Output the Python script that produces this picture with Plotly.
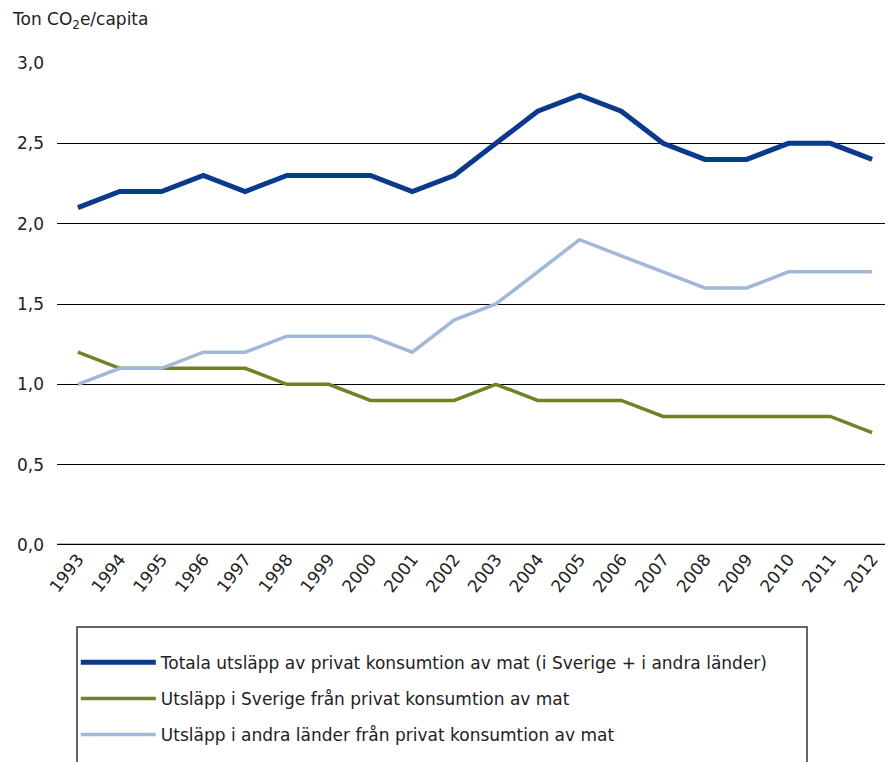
import plotly.graph_objects as go

years = [str(y) for y in range(1993, 2013)]
totala = [2.1, 2.2, 2.2, 2.3, 2.2, 2.3, 2.3, 2.3, 2.2, 2.3, 2.5, 2.7, 2.8, 2.7, 2.5, 2.4, 2.4, 2.5, 2.5, 2.4]
sverige = [1.2, 1.1, 1.1, 1.1, 1.1, 1.0, 1.0, 0.9, 0.9, 0.9, 1.0, 0.9, 0.9, 0.9, 0.8, 0.8, 0.8, 0.8, 0.8, 0.7]
andra = [1.0, 1.1, 1.1, 1.2, 1.2, 1.3, 1.3, 1.3, 1.2, 1.4, 1.5, 1.7, 1.9, 1.8, 1.7, 1.6, 1.6, 1.7, 1.7, 1.7]

names = [
    "Totala utsläpp av privat konsumtion av mat (i Sverige + i andra länder)",
    "Utsläpp i Sverige från privat konsumtion av mat",
    "Utsläpp i andra länder från privat konsumtion av mat",
]
colors = ["#0b3a8c", "#6b8525", "#a1b8d8"]
widths = [5, 3.5, 3.5]
yticks = [0, 0.5, 1.0, 1.5, 2.0, 2.5, 3.0]

FONT = "DejaVu Sans, sans-serif"
FS = 17

fig = go.Figure()
for i, vals in enumerate([totala, sverige, andra]):
    fig.add_trace(go.Scatter(
        x=years, y=vals, mode="lines", name=names[i],
        line=dict(color=colors[i], width=widths[i]),
        legendgroup=f"g{i}",
    ))

# page body has an 8px margin: figure is 885x754 placed at (8,8)
fig.update_layout(
    width=885, height=754,
    margin=dict(l=49, r=0, t=55, b=217),
    plot_bgcolor="white", paper_bgcolor="white",
    font=dict(family=FONT, size=FS, color="#222"),
    separators=",.",
    showlegend=True,
    legend=dict(
        x=0.0225, y=-0.207, xanchor="left", yanchor="top",
        orientation="v", traceorder="grouped", tracegroupgap=11,
        font=dict(family=FONT, size=FS, color="#222"),
        bgcolor="rgba(0,0,0,0)", borderwidth=0, itemwidth=75,
    ),
    xaxis=dict(
        type="category", range=[-0.5, 19.5],
        tickangle=-52, showgrid=False, ticks="",
        tickfont=dict(size=FS), showline=False, zeroline=False,
    ),
    yaxis=dict(
        range=[0, 3.0], tickvals=yticks, tickformat=".1f",
        showgrid=True, gridcolor="#000", gridwidth=1,
        zeroline=False, showline=False, ticks="",
        tickfont=dict(size=FS), ticklabelstandoff=12,
    ),
    shapes=[
        dict(type="rect", xref="paper", yref="paper",
             x0=(77 - 57) / 836, x1=(807 - 57) / 836,
             y0=(545 - 627) / 482, y1=(545 - 800) / 482,
             line=dict(color="#333", width=1.5), fillcolor="rgba(0,0,0,0)", layer="below"),
        dict(type="line", xref="paper", yref="y", x0=0, x1=1, y0=0, y1=0,
             line=dict(color="#000", width=2.5)),
    ],
    annotations=[
        dict(text="Ton CO<sub>2</sub>e/capita", xref="paper", yref="paper",
             x=(10 - 57) / 836, y=(545 - 20) / 482, xanchor="left", yanchor="middle",
             showarrow=False, font=dict(family=FONT, size=FS, color="#222")),
    ],
)

fig.write_html("out.html")
